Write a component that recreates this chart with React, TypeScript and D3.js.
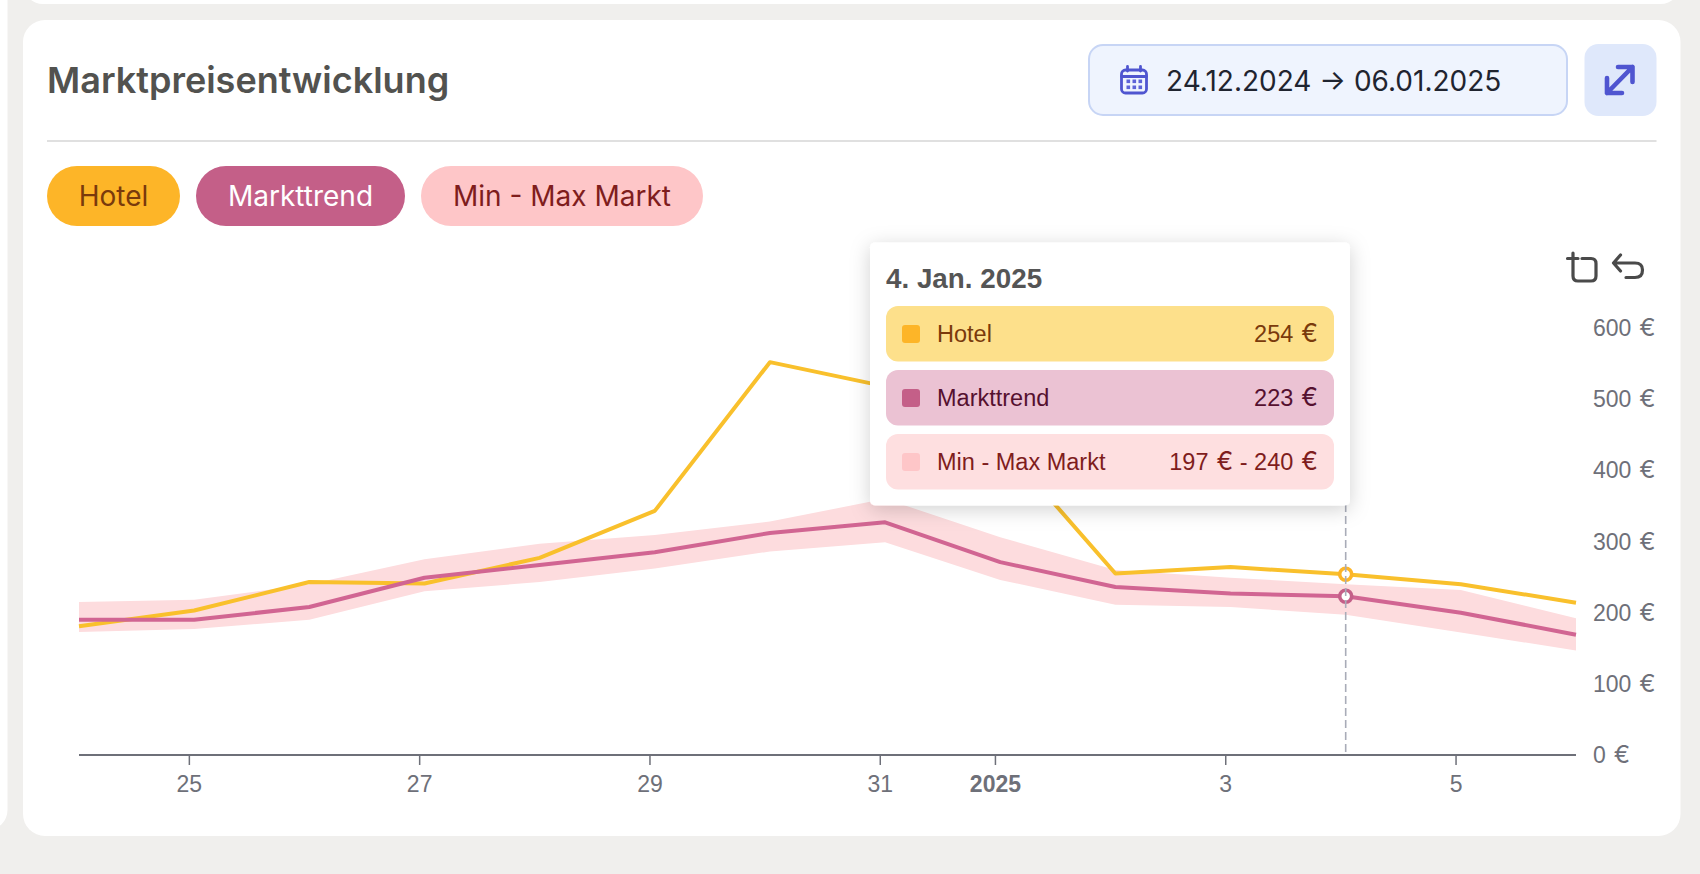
import React from "react";
import * as d3 from "d3";

const hotel = [181, 203, 243, 241, 277, 343, 552, 518, 440, 255, 264, 254, 240, 214];
const trend = [190, 190, 208, 249, 267, 285, 312, 327, 271, 236, 227, 223, 200, 169];
const bandMin = [173, 177, 190, 230, 243, 262, 286, 299, 246, 211, 208, 197, 172, 147];
const bandMax = [215, 218, 240, 275, 297, 309, 328, 360, 306, 260, 249, 240, 232, 192];
const dayIndexes = d3.range(14);
const xTickDays = [1, 3, 5, 7, 8, 10, 12];
const xTickLabels = ["25", "27", "29", "31", "2025", "3", "5"];
const yTicks = [0, 100, 200, 300, 400, 500, 600];
const hoverIndex = 11;
const legendItems = [
  { label: "Hotel", x: 47, w: 133, bg: "#FDB528", fg: "#7A3A0C" },
  { label: "Markttrend", x: 196, w: 209, bg: "#C45F88", fg: "#FFFFFF" },
  { label: "Min - Max Markt", x: 421, w: 282, bg: "#FEC6C8", fg: "#7F1D1D" },
];
const tooltipRows = [
  { label: "Hotel", value: "254 €", y: 306, bg: "#FDE08B", sw: "#FDB528", fg: "#7A3A0C" },
  { label: "Markttrend", value: "223 €", y: 370, bg: "#EBC2D3", sw: "#C45F88", fg: "#55102F" },
  { label: "Min - Max Markt", value: "197 € - 240 €", y: 434, bg: "#FEDFE0", sw: "#FEC6C8", fg: "#7F1D1D" },
];

const INTER = "Inter, sans-serif";
const ARIAL = "'Liberation Sans', Arial, sans-serif";
const AXIS = "#6E7079";

// The euro sign in the reference is wider than Liberation's: set it apart.
const euroText = (s: string, size: number) =>
  s.split("€").flatMap((part, i, all) =>
    i < all.length - 1
      ? [
          <tspan key={`t${i}`}>{part}</tspan>,
          <tspan key={`e${i}`} dx={1.5} fontFamily={INTER} fontSize={size + 1.5}>
            €
          </tspan>,
        ]
      : [<tspan key={`t${i}`}>{part}</tspan>]
  );

export default function App() {
  const x = d3.scaleLinear().domain([0, 13]).range([79, 1576]);
  const y = d3.scaleLinear().domain([0, 600]).range([755, 328]);
  const tickX = (d: number) => x(d - 1 / 24);
  const line = (vals: number[]) =>
    d3.line<number>().x((d) => x(d)).y((d) => y(vals[d]))(dayIndexes) as string;
  const area = d3
    .area<number>()
    .x((d) => x(d))
    .y0((d) => y(bandMin[d]))
    .y1((d) => y(bandMax[d]))(dayIndexes) as string;
  const hx = x(hoverIndex);

  return (
    <svg
      width={1700}
      height={874}
      viewBox="0 0 1700 874"
      style={{ position: "absolute", left: 0, top: 0, display: "block" }}
    >
      <defs>
        <filter id="tipShadow" x="-15%" y="-20%" width="130%" height="140%">
          <feDropShadow dx="0" dy="4" stdDeviation="10" floodColor="#000" floodOpacity="0.18" />
        </filter>
      </defs>
      <rect width={1700} height={874} fill="#F0EFED" />
      {/* surrounding cards */}
      <rect x={23} y={-40} width={1657.5} height={44} rx={20} fill="#fff" />
      <rect x={-40} y={-40} width={47.5} height={870} rx={20} fill="#fff" />
      <rect x={23} y={20} width={1657.5} height={816} rx={22} fill="#fff" />

      {/* header */}
      <text x={47} y={93} fontFamily={INTER} fontWeight={600} fontSize={36} fill="#52524F">
        Marktpreisentwicklung
      </text>
      <rect x={1089} y={45} width={478} height={70} rx={14} fill="#EFF4FE" stroke="#C7D5F5" strokeWidth={2} />
      <g fill="none" stroke="#4F55D0" strokeWidth={2.8} strokeLinecap="round">
        <rect x={1121.5} y={70} width={25} height={23} rx={4} />
        <path d="M1121.5 76.5H1146.5M1127.5 66.5V71M1140.5 66.5V71" />
      </g>
      <g fill="#5D63D8">
        {[1126.5, 1132.5, 1138.5].flatMap((dx) =>
          [79.5, 85.5].map((dy) => <rect key={`${dx}-${dy}`} x={dx} y={dy} width={3.6} height={3.6} />)
        )}
      </g>
      <text x={1166} y={91} fontFamily={INTER} fontSize={28} fill="#1F2430">
        24.12.2024 → 06.01.2025
      </text>
      <rect x={1584.5} y={44} width={72} height={72} rx={14} fill="#DFE8FB" />
      <g fill="none" stroke="#4F55D0" strokeWidth={4.6} strokeLinecap="round" strokeLinejoin="round">
        <path d="M1607 93L1632.5 67M1618 67H1632.5V82M1607 78V93H1622" />
      </g>
      <rect x={47} y={140} width={1609.5} height={2} fill="#E0E0E0" />

      {/* legend */}
      {legendItems.map((l) => (
        <g key={l.label}>
          <rect x={l.x} y={166} width={l.w} height={60} rx={30} fill={l.bg} />
          <text
            x={l.x + l.w / 2}
            y={206}
            textAnchor="middle"
            fontFamily={INTER}
            fontSize={28}
            fill={l.fg}
          >
            {l.label}
          </text>
        </g>
      ))}

      {/* series */}
      <path d={area} fill="#FDDCDE" />
      <path d={line(hotel)} fill="none" stroke="#F9C02C" strokeWidth={4} strokeLinejoin="round" />
      <path d={line(trend)} fill="none" stroke="#D16592" strokeWidth={4} strokeLinejoin="round" />
      <circle cx={hx} cy={y(hotel[hoverIndex])} r={6} fill="#fff" stroke="#FDB528" strokeWidth={3.6} />
      <circle cx={hx} cy={y(trend[hoverIndex])} r={6} fill="#fff" stroke="#C45F88" strokeWidth={3.6} />
      <line x1={hx} x2={hx} y1={300} y2={755} stroke="#A9ACB8" strokeWidth={1.6} strokeDasharray="8 4" />

      {/* x axis */}
      <line x1={79} x2={1576} y1={755} y2={755} stroke={AXIS} strokeWidth={2} />
      {xTickDays.map((d, i) => (
        <g key={d}>
          <line x1={tickX(d)} x2={tickX(d)} y1={755} y2={765} stroke={AXIS} strokeWidth={1.5} />
          <text
            x={tickX(d)}
            y={792}
            textAnchor="middle"
            fontFamily={ARIAL}
            fontSize={23}
            fontWeight={xTickLabels[i] === "2025" ? 700 : 400}
            fill={AXIS}
          >
            {xTickLabels[i]}
          </text>
        </g>
      ))}

      {/* y axis labels */}
      {yTicks.map((t) => (
        <text key={t} x={1593} y={y(t) + 8} fontFamily={ARIAL} fontSize={23} fill={AXIS}>
          {euroText(`${t} €`, 23)}
        </text>
      ))}

      {/* toolbox */}
      <g fill="none" stroke="#4A4A4A" strokeWidth={3.2} strokeLinecap="round" strokeLinejoin="round">
        <path d="M1567.5 258.5H1578M1573 253V276Q1573 281 1578 281H1591Q1596 281 1596 276V263.5Q1596 258.5 1591 258.5H1582" />
        <path d="M1620.5 255L1613.5 263L1620.5 271M1613.5 263H1635Q1642.5 263 1642.5 270Q1642.5 277.5 1635 277.5H1626" />
      </g>

      {/* tooltip */}
      <rect x={870} y={242.5} width={480} height={263} rx={5} fill="#fff" filter="url(#tipShadow)" />
      <text x={886} y={288} fontFamily={ARIAL} fontWeight={700} fontSize={27.8} fill="#555555">
        4. Jan. 2025
      </text>
      {tooltipRows.map((r) => (
        <g key={r.label}>
          <rect x={886} y={r.y} width={448} height={55.5} rx={12} fill={r.bg} />
          <rect x={902} y={r.y + 19} width={18} height={18} rx={3} fill={r.sw} />
          <text x={937} y={r.y + 36} fontFamily={ARIAL} fontSize={23.5} fill={r.fg}>
            {r.label}
          </text>
          <text x={1318} y={r.y + 36} textAnchor="end" fontFamily={ARIAL} fontSize={23.5} fill={r.fg}>
            {euroText(r.value, 23.5)}
          </text>
        </g>
      ))}
    </svg>
  );
}
